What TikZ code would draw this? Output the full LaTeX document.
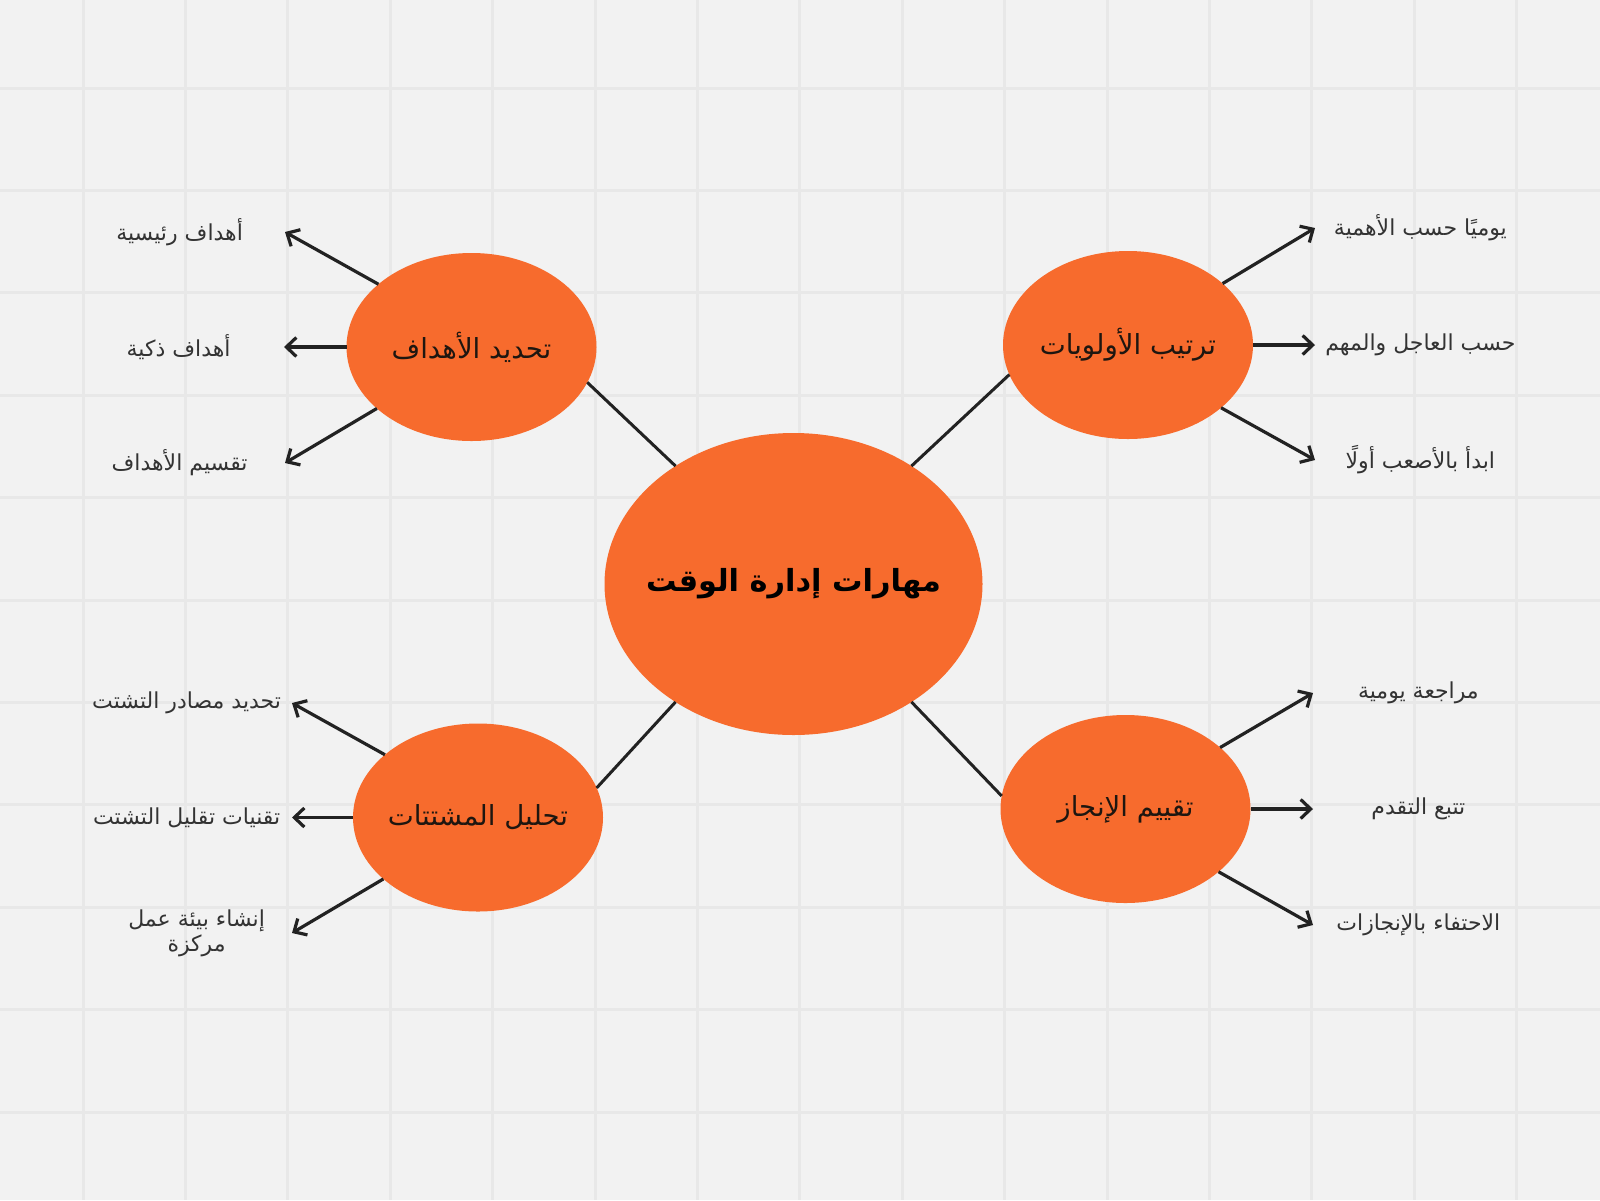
\documentclass[tikz,border=0pt]{standalone}
\usepackage{fontspec}
\setmainfont{DejaVu Sans}
\newfontfamily\arabicfont[Script=Arabic]{DejaVu Sans}
\TeXXeTstate=1
\usetikzlibrary{arrows.meta,shapes.geometric}
\definecolor{bgc}{HTML}{F2F2F2}
\definecolor{gridc}{HTML}{E8E8E8}
\definecolor{orng}{HTML}{F76B2D}
\definecolor{ink}{HTML}{222222}
\definecolor{subink}{HTML}{1E1610}
\definecolor{lblc}{HTML}{333333}
\begin{document}
\begin{tikzpicture}[x=0.5pt,y=-0.5pt,
  bubble/.style={ellipse, fill=orng, inner xsep=-12pt, inner ysep=0pt, outer sep=0pt,
    minimum width=125pt, minimum height=94pt, text=subink,
    font=\arabicfont\fontsize{13.8}{16}\selectfont},
  hub/.style={bubble, inner xsep=-30pt, minimum width=189pt, minimum height=151pt,
    text=black, font=\arabicfont\bfseries\fontsize{15.2}{18}\selectfont},
  leaf/.style={inner sep=0pt, minimum width=105pt, text=lblc, align=center,
    font=\arabicfont\fontsize{11}{12.5}\selectfont},
  link/.style={draw=ink, line width=1.5pt},
  arr/.style={draw=ink, line width=1.6pt, -{Straight Barb[length=5pt,width=9.5pt]}}
]
\useasboundingbox (0,0) rectangle (1600,1200);
\fill[bgc] (0,0) rectangle (1600,1200);
\foreach \i in {0,...,14} \draw[gridc, line width=1.5pt] ({83+102.4*\i},0) -- ({83+102.4*\i},1200);
\foreach \j in {0,...,10} \draw[gridc, line width=1.5pt] (0,{88+102.4*\j}) -- (1600,{88+102.4*\j});

% central and main bubbles
\node[hub] (c) at (793.5,584) {\beginR مهارات إدارة الوقت\endR};
\node[bubble] (tl) at (471.5,347) {\beginR تحديد الأهداف\endR};
\node[bubble] (tr) at (1128,345) {\beginR ترتيب الأولويات\endR};
\node[bubble] (bl) at (478,817.5) {\beginR تحليل المشتتات\endR};
\node[bubble] (br) at (1125.5,809) {\beginR تقييم الإنجاز\endR};

\draw[link] (c.135) -- (tl.343);
\draw[link] (c.45) -- (tr.194.5);
\draw[link] (c.225) -- (bl.14.4);
\draw[link] (c.315) -- (br.174.5);

% leaves
\node[leaf, anchor=east] (tl1) at (285,232) {\beginR أهداف رئيسية\endR};
\node[leaf, anchor=east] (tl2) at (284,347) {\beginR أهداف ذكية\endR};
\node[leaf, anchor=east] (tl3) at (285,463) {\beginR تقسيم الأهداف\endR};
\node[leaf, anchor=west] (tr1) at (1315,228) {\beginR يوميًا حسب الأهمية\endR};
\node[leaf, anchor=west] (tr2) at (1315,345) {\beginR حسب العاجل والمهم\endR};
\node[leaf, anchor=west] (tr3) at (1315,460) {\beginR ابدأ بالأصعب أولًا\endR};
\node[leaf, anchor=east] (bl1) at (292,703) {\beginR تحديد مصادر التشتت\endR};
\node[leaf, anchor=east] (bl2) at (292,817.5) {\beginR تقنيات تقليل التشتت\endR};
\node[leaf, anchor=east, minimum width=95pt] (bl3) at (292,933) {\beginR إنشاء بيئة عمل\endR\\\beginR مركزة\endR};
\node[leaf, anchor=west] (br1) at (1313,693) {\beginR مراجعة يومية\endR};
\node[leaf, anchor=west] (br2) at (1313,809) {\beginR تتبع التقدم\endR};
\node[leaf, anchor=west] (br3) at (1313,925) {\beginR الاحتفاء بالإنجازات\endR};

\draw[arr] (tl.146.5) -- (tl1.east);
\draw[arr] (tl.west) -- (tl2.east);
\draw[arr] (tl.213.5) -- (tl3.east);
\draw[arr] (tr.33.5) -- (tr1.west);
\draw[arr] (tr.east) -- (tr2.west);
\draw[arr] (tr.326.5) -- (tr3.west);
\draw[arr] (bl.146.5) -- (bl1.east);
\draw[arr] (bl.west) -- (bl2.east);
\draw[arr] (bl.213.5) -- (bl3.east);
\draw[arr] (br.33.5) -- (br1.west);
\draw[arr] (br.east) -- (br2.west);
\draw[arr] (br.326.5) -- (br3.west);
\end{tikzpicture}
\end{document}
